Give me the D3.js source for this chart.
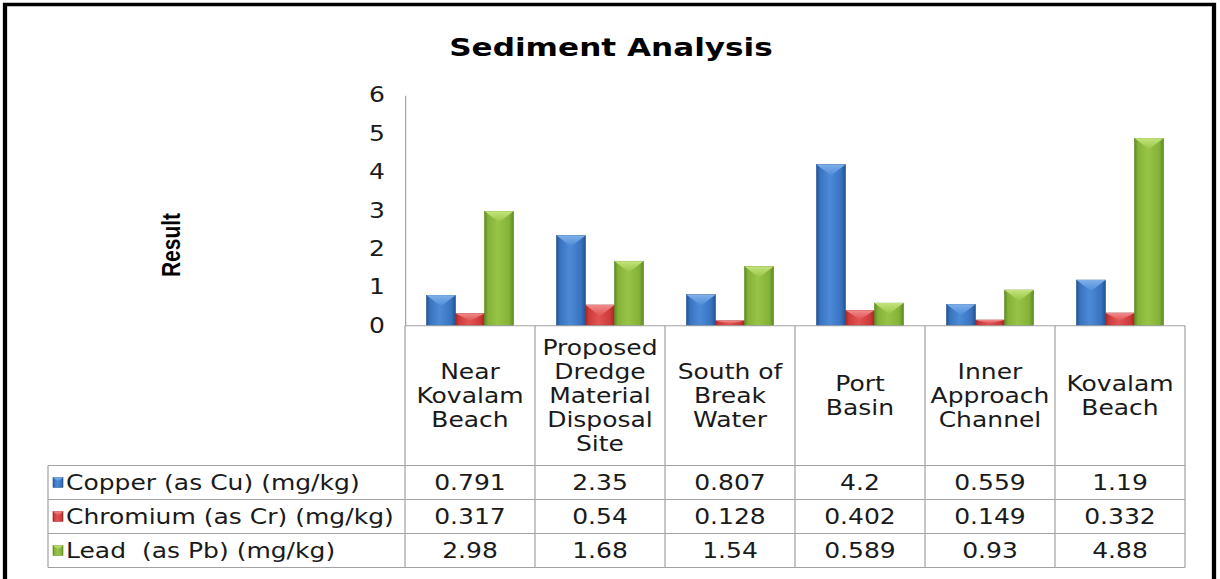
<!DOCTYPE html>
<html>
<head>
<meta charset="utf-8">
<script src="https://cdn.jsdelivr.net/npm/d3@7"></script>
<style>
html, body { margin: 0; padding: 0; background: #fff; overflow: hidden; }
</style>
</head>
<body>
<svg id="chart"></svg>
<script>
var categories = [
  ['Near', 'Kovalam', 'Beach'],
  ['Proposed', 'Dredge', 'Material', 'Disposal', 'Site'],
  ['South of', 'Break', 'Water'],
  ['Port', 'Basin'],
  ['Inner', 'Approach', 'Channel'],
  ['Kovalam', 'Beach']
];
var seriesNames = ['Copper (as Cu) (mg/kg)', 'Chromium (as Cr) (mg/kg)', 'Lead  (as Pb) (mg/kg)'];
var copper = [0.791, 2.35, 0.807, 4.2, 0.559, 1.19];
var chromium = [0.317, 0.54, 0.128, 0.402, 0.149, 0.332];
var lead = [2.98, 1.68, 1.54, 0.589, 0.93, 4.88];
var yTicks = [0, 1, 2, 3, 4, 5, 6];

var seriesValues = [copper, chromium, lead];
// dark edge, base, light centre, bevel top
var seriesColors = [
  ['#24528f', '#3873c0', '#4d8ad6', '#7fb0ea'],
  ['#a32424', '#cf3a3a', '#e05454', '#f08a8a'],
  ['#5e8a22', '#84b238', '#97c447', '#c4e47a']
];

// the reference is stretched sideways, so draw in narrower units and stretch the svg
var pxW = 1220, pxH = 579, stretch = 1.22, W = pxW / stretch;
var lx = function(px) { return px / stretch; };

var svg = d3.select('#chart')
  .attr('width', pxW).attr('height', pxH)
  .attr('viewBox', '0 0 ' + W + ' ' + pxH)
  .attr('preserveAspectRatio', 'none');

var defs = svg.append('defs');
seriesColors.forEach(function(c, i) {
  var g = defs.append('linearGradient').attr('id', 'side' + i).attr('x1', 0).attr('x2', 1).attr('y1', 0).attr('y2', 0);
  [[0, c[0]], [0.12, c[1]], [0.45, c[2]], [0.85, c[1]], [1, c[0]]].forEach(function(s) {
    g.append('stop').attr('offset', s[0]).attr('stop-color', s[1]);
  });
  var t = defs.append('linearGradient').attr('id', 'top' + i).attr('x1', 0).attr('x2', 0).attr('y1', 0).attr('y2', 1);
  t.append('stop').attr('offset', 0).attr('stop-color', c[3]);
  t.append('stop').attr('offset', 1).attr('stop-color', c[2]);
});

// frame
svg.append('rect').attr('x', lx(5)).attr('y', 4.5).attr('width', lx(1209)).attr('height', 620)
  .attr('fill', 'none').attr('stroke', '#000').attr('stroke-width', 3.5);

svg.append('text').attr('x', lx(611)).attr('y', 56).attr('text-anchor', 'middle')
  .style('font-family', 'DejaVu Sans, Verdana, sans-serif').style('font-weight', 'bold').style('font-size', '25.5px')
  .text('Sediment Analysis');

var x = d3.scaleBand().domain(d3.range(categories.length)).range([lx(405), lx(1185)]);
var xs = d3.scaleBand().domain(d3.range(seriesNames.length)).range([0, x.bandwidth()]).paddingOuter(0.74);
var y = d3.scaleLinear().domain([0, 6]).range([325.7, 95.3]);

var tableLeft = lx(48), tableRight = x.range()[1];
var headerBottom = 465.5, rowH = 34;
var gray = '#a3a3a3';
var font = 'DejaVu Sans, Verdana, sans-serif';

// y axis: line only, no ticks
var yAxis = svg.append('g').attr('transform', 'translate(' + x.range()[0] + ',0)')
  .call(d3.axisLeft(y).tickValues(yTicks).tickSize(0).tickPadding(lx(20)).tickFormat(d3.format('d')));
yAxis.select('.domain').attr('stroke', gray);
yAxis.selectAll('text').style('font-family', font).style('font-size', '20.5px').attr('fill', '#1a1a1a');

svg.append('text').attr('transform', 'translate(' + lx(180) + ',245) rotate(-90)').attr('text-anchor', 'middle')
  .style('font-family', 'Liberation Sans, Arial, sans-serif').style('font-weight', 'bold').style('font-size', '21px')
  .text('Result');

// bars
var groups = svg.selectAll('g.cat').data(categories).enter().append('g').attr('class', 'cat')
  .attr('transform', function(d, i) { return 'translate(' + x(i) + ',0)'; });
seriesNames.forEach(function(name, s) {
  var bw = xs.bandwidth();
  groups.append('rect')
    .attr('x', xs(s)).attr('width', bw)
    .attr('y', function(d, i) { return y(seriesValues[s][i]); })
    .attr('height', function(d, i) { return y(0) - y(seriesValues[s][i]); })
    .attr('fill', 'url(#side' + s + ')')
    .attr('stroke', seriesColors[s][0]).attr('stroke-width', 0.5);
  groups.append('path')
    .attr('d', function(d, i) {
      var top = y(seriesValues[s][i]), h = y(0) - top, depth = Math.min(h * 0.6, 11);
      return 'M' + xs(s) + ',' + top + 'L' + (xs(s) + bw) + ',' + top + 'L' + (xs(s) + bw / 2) + ',' + (top + depth) + 'Z';
    })
    .attr('fill', 'url(#top' + s + ')');
});

// data table grid
var grid = svg.append('g').attr('stroke', gray).attr('stroke-width', 1).attr('fill', 'none');
grid.append('line').attr('x1', x.range()[0]).attr('x2', tableRight).attr('y1', y(0)).attr('y2', y(0));
d3.range(categories.length + 1).forEach(function(i) {
  var xx = i < categories.length ? x(i) : tableRight;
  grid.append('line').attr('x1', xx).attr('x2', xx).attr('y1', y(0)).attr('y2', headerBottom + rowH * 3);
});
grid.append('line').attr('x1', tableLeft).attr('x2', tableLeft).attr('y1', headerBottom).attr('y2', headerBottom + rowH * 3);
d3.range(4).forEach(function(r) {
  grid.append('line').attr('x1', tableLeft).attr('x2', tableRight)
    .attr('y1', headerBottom + r * rowH).attr('y2', headerBottom + r * rowH);
});

// category header labels
groups.append('text').attr('text-anchor', 'middle')
  .style('font-family', font).style('font-size', '20.5px').attr('fill', '#1a1a1a')
  .each(function(lines) {
    var t = d3.select(this), lh = 24, cy = 395.5 - (lines.length - 1) * lh / 2;
    lines.forEach(function(l, k) {
      t.append('tspan').attr('x', x.bandwidth() / 2).attr('y', cy + k * lh).attr('dy', '0.36em').text(l);
    });
  });

// rows
seriesNames.forEach(function(name, s) {
  var cy = headerBottom + s * rowH + rowH / 2;
  svg.append('rect').attr('x', lx(53)).attr('y', cy - 5).attr('width', lx(10)).attr('height', 10)
    .attr('fill', 'url(#side' + s + ')').attr('stroke', seriesColors[s][0]).attr('stroke-width', 0.5);
  svg.append('path')
    .attr('d', 'M' + lx(53) + ',' + (cy - 5) + 'L' + lx(63) + ',' + (cy - 5) + 'L' + lx(58) + ',' + (cy - 1) + 'Z')
    .attr('fill', 'url(#top' + s + ')');
  svg.append('text').attr('x', lx(66)).attr('y', cy).attr('dy', '0.36em')
    .attr('xml:space', 'preserve').style('white-space', 'pre')
    .style('font-family', font).style('font-size', '20.5px').attr('fill', '#1a1a1a')
    .text(name);
  svg.selectAll(null).data(seriesValues[s]).enter().append('text')
    .attr('x', function(d, i) { return x(i) + x.bandwidth() / 2; })
    .attr('y', cy).attr('dy', '0.36em').attr('text-anchor', 'middle')
    .style('font-family', font).style('font-size', '20.5px').attr('fill', '#1a1a1a')
    .text(function(d) { return String(d); });
});
</script>
</body>
</html>
